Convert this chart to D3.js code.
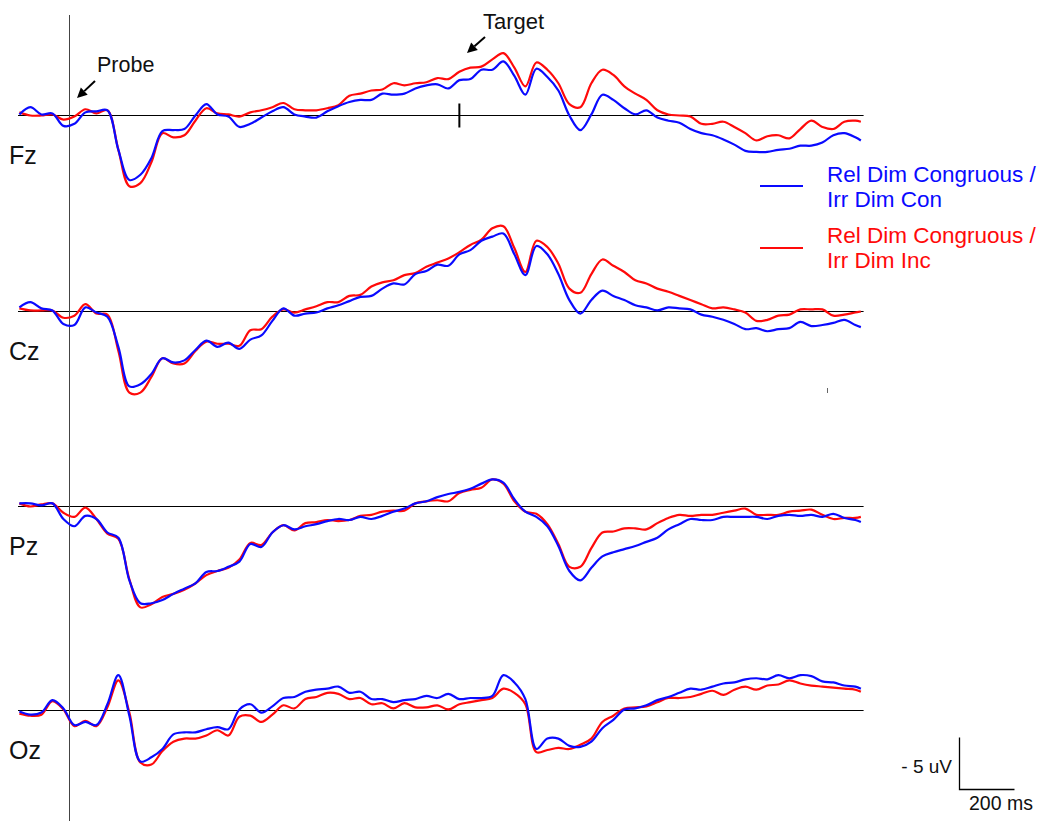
<!DOCTYPE html>
<html>
<head>
<meta charset="utf-8">
<script src="https://cdn.jsdelivr.net/npm/d3@7"></script>
<style>
    body { margin: 0; background: #fff; }
    text { font-family: Arial, "Liberation Sans", sans-serif; }
</style>
</head>
<body>
<script>
// sample times in ms (probe onset = 0)
const times = [-180, -140, -100, -60, -20, 20, 60, 100, 140, 180, 220, 260, 300, 340, 380, 420, 460, 500, 540, 580,
    620, 660, 700, 740, 780, 820, 860, 900, 940, 980, 1020, 1060, 1100, 1140, 1180, 1220, 1260, 1300, 1340, 1380,
    1420, 1460, 1500, 1540, 1580, 1620, 1660, 1700, 1740, 1780, 1820, 1860, 1900, 1940, 1980, 2020, 2060, 2100, 2140, 2180,
    2220, 2260, 2300, 2340, 2380, 2420, 2460, 2500, 2540, 2580, 2620, 2660, 2700, 2740, 2780, 2820, 2860, 2880];

const channels = ["Fz", "Cz", "Pz", "Oz"];

// amplitudes in uV, negative plotted up
const fzCon = [-0.1, -0.8, -0.1, -0.2, 1.0, 0.8, -0.3, -0.4, -0.5, 3.3,
    6.2, 5.7, 4.1, 1.5, 1.4, 1.3, 0.0, -1.1, -0.1, 0.1,
    1.1, 0.8, 0.2, -0.4, -0.8, -0.1, 0.1, 0.2, -0.4, -0.9,
    -1.3, -1.5, -1.5, -2.1, -2.0, -2.1, -2.6, -2.9, -3.0, -2.6,
    -3.4, -3.5, -4.4, -4.4, -5.2, -3.8, -2.0, -4.5, -3.7, -2.4,
    0.0, 1.4, -0.1, -2.0, -1.5, -0.7, -0.1, -0.5, 0.2, 0.5,
    0.7, 1.3, 1.7, 1.9, 2.3, 2.8, 3.4, 3.5, 3.5, 3.3,
    3.2, 2.9, 2.9, 2.6, 1.9, 1.7, 2.1, 2.4];
const fzInc = [-0.3, 0.0, 0.0, -0.1, 0.4, 0.1, -0.6, -0.2, -0.5, 3.3,
    6.8, 6.5, 4.5, 1.7, 2.1, 1.9, 0.5, -0.7, -0.2, -0.1,
    0.1, -0.3, -0.5, -0.8, -1.2, -0.6, -0.5, -0.5, -0.7, -1.0,
    -1.9, -2.1, -2.4, -2.5, -3.1, -2.9, -3.1, -3.2, -3.6, -3.5,
    -4.2, -4.6, -4.7, -5.4, -6.0, -4.6, -2.8, -5.1, -4.4, -3.1,
    -1.1, -0.8, -3.1, -4.4, -3.9, -2.8, -2.1, -1.5, -0.5, -0.1,
    0.0, 0.1, 0.8, 0.8, 0.6, 1.1, 1.7, 2.4, 2.0, 1.9,
    2.2, 1.3, 0.5, 1.1, 1.3, 0.6, 0.5, 0.6];
const czCon = [-0.4, -0.9, -0.3, -0.1, 1.2, 1.3, -0.4, 0.1, 0.5, 3.4,
    7.2, 7.0, 6.0, 4.5, 4.9, 4.7, 3.7, 2.8, 3.4, 3.0,
    3.6, 2.7, 2.3, 0.9, -0.3, 0.4, 0.2, 0.1, -0.3, -0.6,
    -1.0, -1.4, -1.5, -2.2, -2.7, -2.6, -3.6, -3.9, -4.5, -4.4,
    -5.5, -5.9, -6.8, -7.2, -7.5, -5.5, -3.5, -6.3, -5.5, -3.6,
    -1.1, 0.2, -1.1, -2.0, -1.5, -1.1, -0.6, -0.4, -0.1, -0.4,
    -0.3, -0.2, 0.3, 0.5, 0.8, 1.2, 1.7, 1.6, 1.9, 1.7,
    1.6, 1.0, 1.4, 1.3, 1.1, 0.8, 1.3, 1.5];
const czInc = [-0.3, -0.1, -0.1, -0.1, 0.6, 0.4, -0.7, 0.2, 0.3, 3.8,
    7.8, 7.8, 6.3, 4.5, 5.0, 5.0, 3.8, 2.9, 3.1, 3.1,
    3.3, 1.8, 1.7, 0.5, -0.2, 0.1, -0.2, -0.5, -0.9, -0.9,
    -1.5, -1.6, -2.4, -2.8, -3.0, -3.5, -3.7, -4.3, -4.7, -5.1,
    -5.7, -6.4, -6.9, -8.0, -8.2, -6.1, -3.8, -6.8, -6.2, -4.6,
    -2.2, -1.8, -3.6, -5.0, -4.4, -3.8, -3.0, -2.7, -2.2, -1.9,
    -1.5, -1.1, -0.7, -0.3, -0.4, -0.2, 0.1, 0.9, 0.8, 0.4,
    0.3, -0.2, -0.2, -0.2, 0.4, 0.3, 0.1, 0.0];
const pzCon = [-0.3, -0.3, -0.1, -0.3, 1.2, 1.9, 0.9, 1.2, 2.5, 3.0,
    7.1, 9.3, 9.3, 9.0, 8.4, 7.9, 7.4, 6.3, 6.2, 5.8,
    5.3, 3.6, 3.9, 2.5, 1.8, 2.2, 1.9, 1.7, 1.4, 1.2,
    1.3, 1.0, 1.2, 0.9, 0.5, 0.2, -0.3, -0.5, -0.9, -1.2,
    -1.4, -1.7, -2.2, -2.6, -2.3, -0.7, 0.5, 1.0, 1.9, 3.8,
    6.2, 7.1, 5.9, 4.8, 4.4, 4.1, 3.8, 3.4, 3.0, 2.2,
    1.7, 1.2, 1.3, 1.3, 1.0, 1.0, 1.0, 1.0, 1.2, 0.9,
    0.8, 0.9, 0.8, 1.0, 0.7, 1.1, 1.3, 1.5];
const pzInc = [-0.3, 0.0, -0.2, -0.3, 0.6, 1.0, 0.1, 1.2, 2.6, 3.1,
    7.0, 9.7, 9.4, 8.7, 8.4, 8.0, 7.4, 6.6, 6.2, 5.9,
    5.1, 3.5, 3.7, 2.5, 1.8, 2.3, 1.6, 1.5, 1.3, 1.4,
    1.3, 0.9, 0.8, 0.5, 0.4, 0.4, -0.3, -0.5, -0.6, -0.5,
    -1.3, -1.6, -1.8, -2.6, -2.2, -0.5, 0.5, 0.7, 1.7, 3.6,
    5.8, 5.8, 4.0, 2.5, 2.4, 2.1, 2.1, 2.2, 1.6, 1.1,
    0.8, 0.9, 0.8, 0.8, 0.6, 0.4, 0.2, 0.8, 0.8, 0.8,
    0.5, 0.4, 0.3, 0.8, 1.2, 1.1, 1.1, 1.0];
const ozCon = [0.1, 0.4, 0.2, -1.0, -0.2, 1.4, 1.1, 1.4, -0.6, -3.4,
    0.5, 4.9, 4.5, 3.7, 2.3, 2.1, 2.1, 1.8, 1.6, 1.8,
    -0.1, -0.6, 0.2, -0.4, -1.2, -1.3, -1.8, -2.0, -2.1, -2.3,
    -1.7, -1.8, -1.1, -1.1, -0.8, -1.0, -1.1, -1.4, -1.2, -1.6,
    -1.1, -1.2, -1.2, -1.4, -3.4, -2.7, -1.1, 3.7, 2.7, 2.7,
    3.4, 3.5, 3.0, 1.7, 0.9, -0.1, -0.2, -0.5, -1.0, -1.3,
    -1.7, -2.1, -2.0, -2.3, -2.6, -2.7, -3.0, -3.1, -3.0, -3.4,
    -3.1, -3.4, -3.3, -2.8, -2.7, -2.4, -2.3, -2.1];
const ozInc = [0.3, 0.5, 0.4, -0.9, -0.1, 1.5, 1.0, 1.5, -0.3, -2.9,
    0.2, 5.0, 5.2, 3.9, 3.0, 2.7, 2.7, 2.4, 1.9, 2.4,
    0.6, 0.5, 1.1, 0.4, -0.5, -0.2, -1.1, -1.3, -1.7, -1.6,
    -1.1, -1.2, -0.6, -0.7, -0.2, -0.7, -0.3, -0.3, -0.5, -0.1,
    -0.6, -0.8, -1.0, -1.2, -2.1, -1.7, -0.6, 4.0, 3.8, 3.6,
    3.7, 3.3, 2.7, 1.1, 0.5, -0.2, -0.3, -0.4, -0.8, -1.2,
    -1.2, -1.3, -1.6, -1.9, -1.5, -2.0, -2.3, -2.0, -2.4, -2.5,
    -2.9, -2.6, -2.4, -2.3, -2.2, -2.1, -2.0, -1.8];

const legendCon = ["Rel Dim Congruous /", "Irr Dim Con"];
const legendInc = ["Rel Dim Congruous /", "Irr Dim Inc"];
const probeTime = 0, targetTime = 1420;
const scaleMs = 200, scaleUv = 5;

var w = 1048, h = 821;
var baselines = [115.5, 311.5, 506.5, 710.5];
var blue = "#0a0aff", red = "#ff0a0a";

var channelData = [[fzCon, fzInc], [czCon, czInc], [pzCon, pzInc], [ozCon, ozInc]];

let xScale = d3.scaleLinear()
    .domain([-185, 2890])
    .range([18, 863.6]);

var svg = d3.select("body")
    .append("svg")
    .attr("width", w)
    .attr("height", h);

//zero lines
svg.selectAll("line.zero")
    .data(baselines)
    .enter()
    .append("line")
    .attr("class", "zero")
    .attr("x1", xScale.range()[0])
    .attr("x2", xScale.range()[1])
    .attr("y1", function (d) { return d; })
    .attr("y2", function (d) { return d; })
    .attr("stroke", "#000")
    .attr("stroke-width", 1);

//probe onset line
svg.append("line")
    .attr("x1", Math.round(xScale(probeTime)) + 0.5).attr("x2", Math.round(xScale(probeTime)) + 0.5)
    .attr("y1", 15).attr("y2", h)
    .attr("stroke", "#444").attr("stroke-width", 1);

//traces
channelData.forEach(function (pair, i) {
    let yScale = d3.scaleLinear()
        .domain([0, scaleUv])
        .range([baselines[i], baselines[i] + 52]);
    let line = d3.line()
        .x(function (d, j) { return xScale(times[j]); })
        .y(function (d) { return yScale(d); })
        .curve(d3.curveCatmullRom.alpha(0.5));
    svg.append("path")
        .attr("d", line(pair[1]))
        .attr("fill", "none")
        .attr("stroke", red)
        .attr("stroke-width", 2.2);
    svg.append("path")
        .attr("d", line(pair[0]))
        .attr("fill", "none")
        .attr("stroke", blue)
        .attr("stroke-width", 2.2);
    //channel label
    svg.append("text")
        .attr("x", 9)
        .attr("y", baselines[i] + 48)
        .attr("font-size", 25)
        .attr("fill", "#111")
        .text(channels[i]);
});

//target tick on Fz
svg.append("line")
    .attr("x1", xScale(targetTime)).attr("x2", xScale(targetTime))
    .attr("y1", baselines[0] - 12).attr("y2", baselines[0] + 12)
    .attr("stroke", "#000").attr("stroke-width", 2);

//small stray mark
svg.append("line")
    .attr("x1", 827.5).attr("x2", 827.5)
    .attr("y1", 388).attr("y2", 393)
    .attr("stroke", "#666").attr("stroke-width", 1);

//arrows
function arrow(x1, y1, x2, y2) {
    let a = Math.atan2(y2 - y1, x2 - x1);
    let len = 10, hw = 5;
    let bx = x2 - len * Math.cos(a), by = y2 - len * Math.sin(a);
    svg.append("line")
        .attr("x1", x1).attr("y1", y1)
        .attr("x2", bx).attr("y2", by)
        .attr("stroke", "#000").attr("stroke-width", 2);
    let pts = [[x2, y2],
        [bx + hw * Math.sin(a), by - hw * Math.cos(a)],
        [bx - hw * Math.sin(a), by + hw * Math.cos(a)]];
    svg.append("polygon")
        .attr("points", pts.map(function (p) { return p.join(","); }).join(" "))
        .attr("fill", "#000");
}
arrow(95, 81, 77, 98);
arrow(485, 37, 467, 53);

svg.append("text")
    .attr("x", 97).attr("y", 72)
    .attr("font-size", 21.5)
    .attr("fill", "#111")
    .text("Probe");
svg.append("text")
    .attr("x", 483).attr("y", 29)
    .attr("font-size", 22)
    .attr("fill", "#111")
    .text("Target");

//legend
var legend = [[legendCon, blue, 186, 182], [legendInc, red, 248, 243]];
legend.forEach(function (l) {
    svg.append("line")
        .attr("x1", 760).attr("x2", 803)
        .attr("y1", l[2]).attr("y2", l[2])
        .attr("stroke", l[1]).attr("stroke-width", 2);
    svg.selectAll(null)
        .data(l[0])
        .enter()
        .append("text")
        .attr("x", 827)
        .attr("y", function (d, j) { return l[3] + j * 25; })
        .attr("font-size", 22.5)
        .attr("fill", l[1])
        .text(function (d) { return d; });
});

//scale bar
var sbX = 959.5, sbY = 789.5;
let sbY2 = d3.scaleLinear().domain([0, scaleUv]).range([sbY, sbY - 52]);
svg.append("path")
    .attr("d", "M" + sbX + "," + sbY2(scaleUv) + "V" + sbY2(0)
        + "H" + (sbX + xScale(scaleMs) - xScale(0)))
    .attr("fill", "none")
    .attr("stroke", "#000")
    .attr("stroke-width", 1.3);
svg.append("text")
    .attr("x", 952).attr("y", 773)
    .attr("text-anchor", "end")
    .attr("font-size", 19)
    .attr("fill", "#111")
    .text("- " + scaleUv + " uV");
svg.append("text")
    .attr("x", 969).attr("y", 810)
    .attr("font-size", 19.5)
    .attr("fill", "#111")
    .text(scaleMs + " ms");
</script>
</body>
</html>
